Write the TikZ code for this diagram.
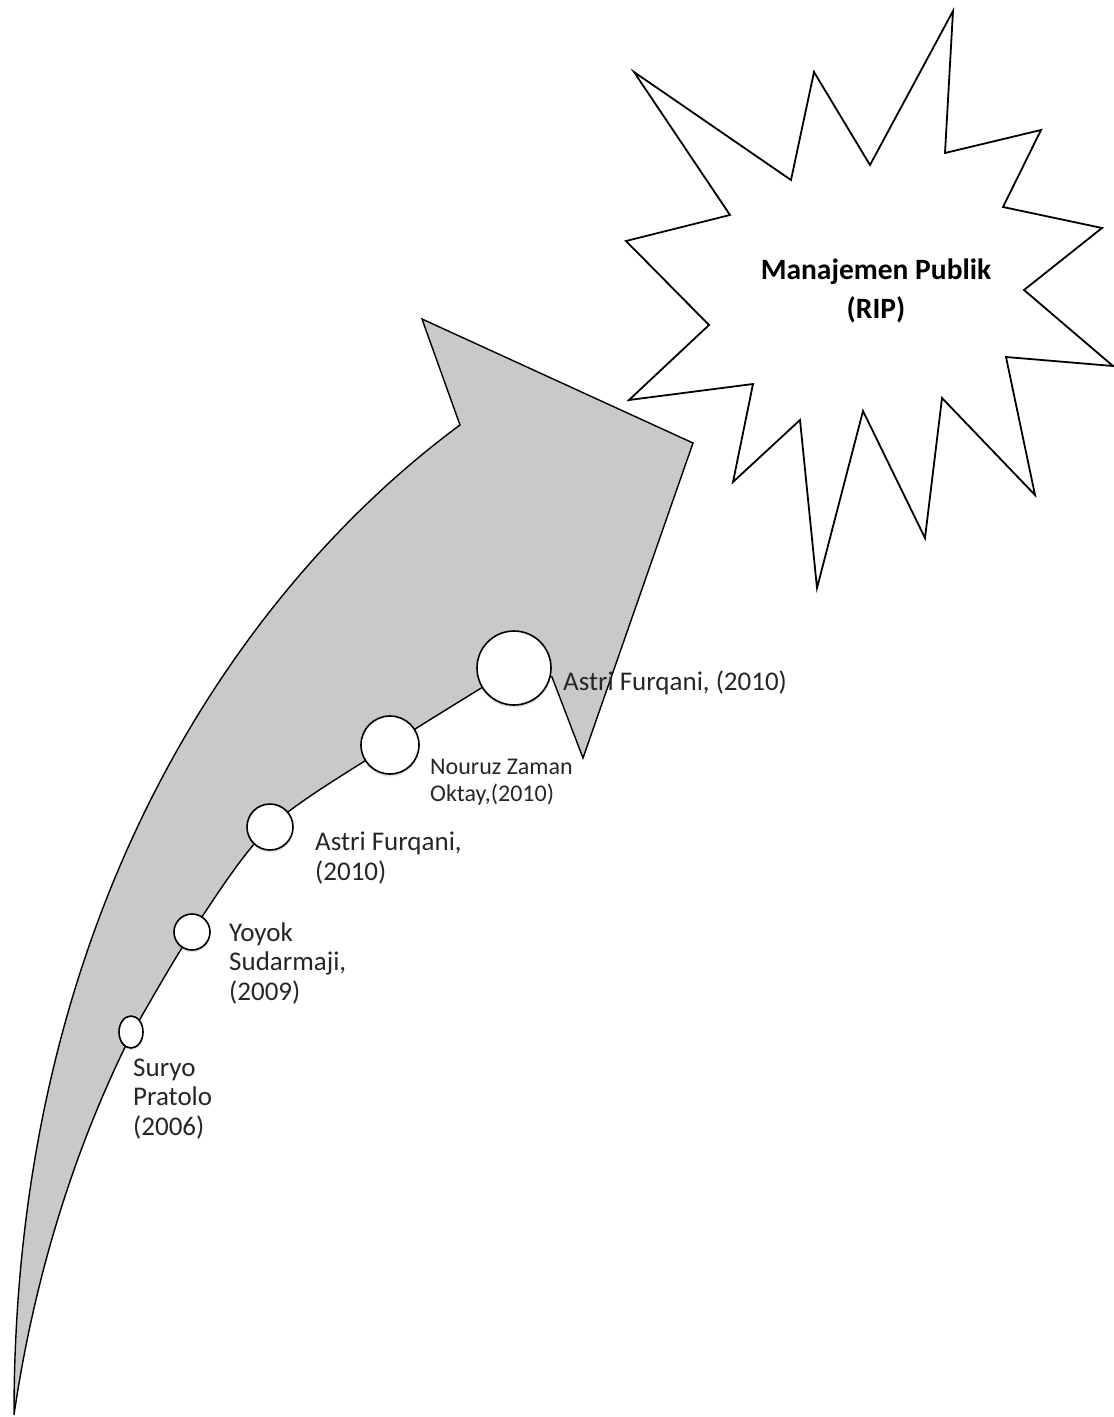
\documentclass[tikz,border=0pt]{standalone}
\usepackage{fontspec}
\setmainfont{Carlito}
\usetikzlibrary{positioning,shapes.geometric,shadows}
\definecolor{arrowgray}{HTML}{C9C9C9}
\definecolor{inkgray}{HTML}{262626}

\begin{document}
\begin{tikzpicture}[
    x=1pt, y=-1pt,
    dot/.style={circle,draw=black,line width=1.6pt,fill=white,inner sep=0pt,
      drop shadow={shadow xshift=0pt,shadow yshift=-2.5pt,opacity=0.25}},
    lbl/.style={anchor=west,align=left,inner sep=0pt,text=inkgray,
      font=\fontsize{27}{29.5}\selectfont},
    burst/.style={draw=black,line width=1.8pt,fill=white,line join=miter}]
  \useasboundingbox (0,0) rectangle (1114,1417);
  % curved arrow
  \draw[fill=arrowgray,line width=1.4pt,line join=miter]
    (14,1415) .. controls (14,900) and (250,580) .. (460,425)
    -- (422,319) -- (693,443) -- (583,758) -- (552,677) -- (514,668)
    -- plot[smooth] coordinates {(514,668) (390,745) (270,827) (192,932) (131,1035)}
    .. controls (71,1155) and (33,1285) .. (14,1415) -- cycle;
  % stations on the arrow
  \node[dot,minimum size=74pt] (c5) at (514,668) {};
  \node[dot,minimum size=58pt] (c4) at (390,745) {};
  \node[dot,minimum size=46pt] (c3) at (270,827) {};
  \node[dot,minimum size=36pt] (c2) at (192,932) {};
  \node[dot,ellipse,minimum width=24pt,minimum height=32pt] (c1) at (131,1032) {};
  \node[lbl] (l5) at (563,683) {Astri Furqani, (2010)};
  \node[lbl,font=\fontsize{24}{26.5}\selectfont] (l4) at (430,782) {Nouruz Zaman\\Oktay,(2010)};
  \node[lbl] (l3) at (315,858) {Astri Furqani,\\(2010)};
  \node[lbl] (l2) at (229,963) {Yoyok\\Sudarmaji,\\(2009)};
  \node[lbl] (l1) at (133,1099) {Suryo\\Pratolo\\(2006)};
  % star
  \draw[burst] (634,72) -- (791,180) -- (814,72) -- (870,165) -- (953,11)
    -- (945,153) -- (1041,130) -- (1003,207) -- (1102,228) -- (1024,290)
    -- (1113,366) -- (1006,357) -- (1035,495) -- (942,398) -- (925,538)
    -- (863,411) -- (817,588) -- (800,420) -- (733,482) -- (753,384)
    -- (629,400) -- (709,325) -- (626,241) -- (730,215) -- cycle;
  \node[align=center,font=\bfseries\fontsize{29.5}{39}\selectfont] (rip)
    at (876,291) {Manajemen Publik\\(RIP)};
\end{tikzpicture}
\end{document}
